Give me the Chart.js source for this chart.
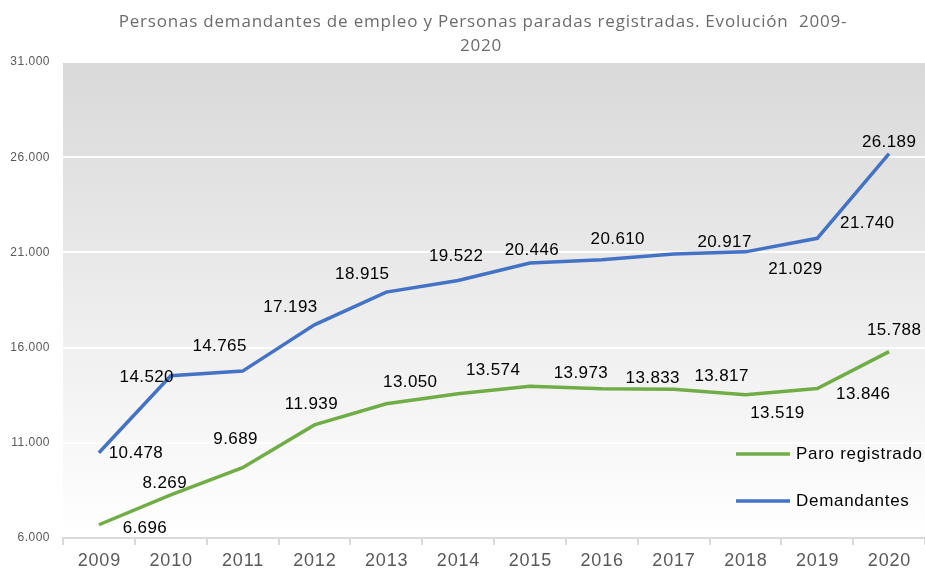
<!DOCTYPE html>
<html>
<head>
<meta charset="utf-8">
<script src="https://cdn.jsdelivr.net/npm/chart.js@4"></script>
<style>
  body{margin:0;background:#fff;}
  canvas{display:block;}
</style>
</head>
<body>
<canvas id="chart" width="925" height="572"></canvas>
<script>
// datos
const years=['2009','2010','2011','2012','2013','2014','2015','2016','2017','2018','2019','2020'];
const demandantes=[10478,14520,14765,17193,18915,19522,20446,20610,20917,21029,21740,26189];
const paro=[6696,8269,9689,11939,13050,13574,13973,13833,13817,13519,13846,15788];
const yTicks=[6000,11000,16000,21000,26000,31000];
const titleLines=['Personas demandantes de empleo y Personas paradas registradas. Evolución  2009-','2020'];

// desplazamiento de las etiquetas respecto al punto (px)
const offDem=[[37,1],[-24,2],[-23,-25],[-24,-18],[-24,-18],[-2,-24],[2,-13],[16,-21],[51,-12],[50,17],[50,-15],[0,-11]];
const offParo=[[46,4],[-6,-11],[-7,-28],[-3,-21],[24,-21],[35,-23],[51,-13],[51,-11],[48,-13],[32,18],[46,6],[5,-21]];

const fmt=v=>v.toString().replace(/\B(?=(\d{3})+(?!\d))/g,'.');
const FONT='"Liberation Sans", Arial, sans-serif';

const deco={
  id:'deco',
  beforeDraw(chart){
    const {ctx,chartArea:a}=chart;
    const g=ctx.createLinearGradient(0,a.top,0,a.bottom);
    g.addColorStop(0,'#d9d9d9');
    g.addColorStop(1,'#ffffff');
    ctx.save();
    ctx.fillStyle=g;
    ctx.fillRect(a.left,a.top,a.right-a.left,a.bottom-a.top);
    ctx.restore();
    ctx.letterSpacing='0.5px'; // para las etiquetas del eje y
  },
  afterDatasetsDraw(chart){
    const ctx=chart.ctx;
    ctx.save();
    ctx.letterSpacing='0.4px';
    ctx.font='17px '+FONT;
    ctx.fillStyle='#000';
    ctx.textAlign='center';
    ctx.textBaseline='middle';
    [[0,offParo],[1,offDem]].forEach(([di,offs])=>{
      const meta=chart.getDatasetMeta(di);
      const vals=chart.data.datasets[di].data;
      meta.data.forEach((p,i)=>{
        ctx.fillText(fmt(vals[i]),p.x+offs[i][0],p.y+offs[i][1]);
      });
    });
    ctx.restore();
  },
  afterDraw(chart){
    const ctx=chart.ctx;
    ctx.save();
    // etiquetas eje x
    const xs=chart.scales.x;
    ctx.letterSpacing='0.8px';
    ctx.font='18px '+FONT;
    ctx.fillStyle='#595959';
    ctx.textAlign='center';
    ctx.textBaseline='middle';
    years.forEach((y,i)=>ctx.fillText(y,xs.getPixelForValue(i)+0.4,561));
    // titulo
    ctx.letterSpacing='0.8px';
    ctx.font='17px "Open Sans", sans-serif';
    ctx.fillStyle='#6b6b6b';
    ctx.fillText(titleLines[0],483,22);
    ctx.fillText(titleLines[1],481,46);
    // leyenda
    const items=[[chart.data.datasets[0],454],[chart.data.datasets[1],501]];
    ctx.letterSpacing='0.7px';
    ctx.font='17px '+FONT;
    ctx.textAlign='left';
    items.forEach(([ds,y])=>{
      ctx.strokeStyle=ds.borderColor;
      ctx.lineWidth=3.5;
      ctx.beginPath();ctx.moveTo(736,y);ctx.lineTo(790,y);ctx.stroke();
      ctx.fillStyle='#000';
      ctx.fillText(ds.label,796,y);
    });
    ctx.restore();
    ctx.letterSpacing='0px';
  }
};

const ctx=document.getElementById('chart').getContext('2d');
const chart=new Chart(ctx,{
  type:'line',
  data:{
    labels:years,
    datasets:[
      {label:'Paro registrado',data:paro,borderColor:'#70ad47',borderWidth:3.5,pointRadius:0,fill:false,tension:0},
      {label:'Demandantes',data:demandantes,borderColor:'#4472c4',borderWidth:3.5,pointRadius:0,fill:false,tension:0}
    ]
  },
  options:{
    responsive:false,
    animation:false,
    layout:{padding:{top:62,right:0,left:0,bottom:0}},
    plugins:{legend:{display:false},title:{display:false},tooltip:{enabled:false}},
    scales:{
      x:{
        offset:true,
        afterFit(s){s.height=34;},
        grid:{offset:true,drawOnChartArea:false,drawTicks:true,tickLength:7,color:'#d9d9d9',lineWidth:2},
        border:{color:'#d9d9d9',width:2},
        ticks:{color:'rgba(0,0,0,0)',padding:5,font:{family:FONT,size:17}}
      },
      y:{
        min:6000,max:31000,
        afterFit(s){s.width=63;},
        afterBuildTicks(s){s.ticks=yTicks.map(v=>({value:v}));},
        grid:{color:'#ffffff',lineWidth:2,drawTicks:false},
        border:{display:false},
        ticks:{color:'#595959',padding:13,font:{family:FONT,size:12},callback:v=>fmt(v)}
      }
    }
  },
  plugins:[deco]
});
</script>
</body>
</html>
